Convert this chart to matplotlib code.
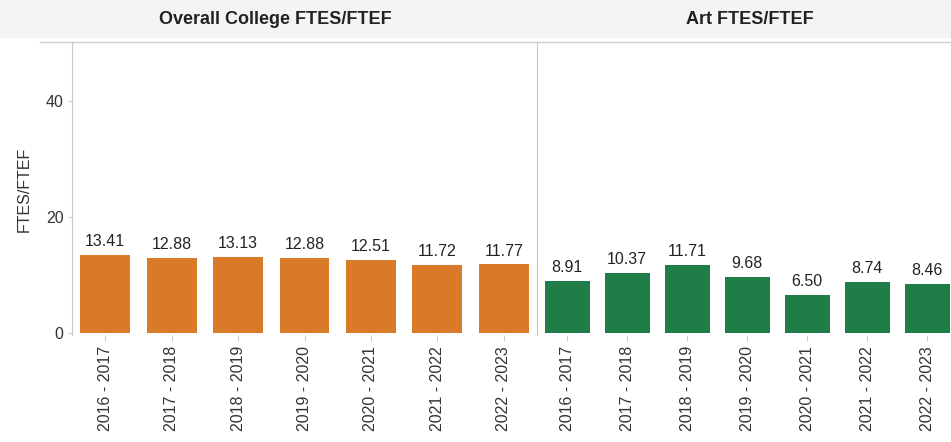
import matplotlib.pyplot as plt
from matplotlib.patches import Rectangle

plt.rcParams['font.family'] = ['Liberation Sans', 'DejaVu Sans']

years = ['2016 - 2017', '2017 - 2018', '2018 - 2019', '2019 - 2020',
         '2020 - 2021', '2021 - 2022', '2022 - 2023']
college = [13.41, 12.88, 13.13, 12.88, 12.51, 11.72, 11.77]
art = [8.91, 10.37, 11.71, 9.68, 6.50, 8.74, 8.46]
titles = ['Overall College FTES/FTEF', 'Art FTES/FTEF']
colors = ['#D87A27', '#1F7D48']

W, H = 951, 442
fig = plt.figure(figsize=(W / 100, H / 100), dpi=100)
fig.patch.set_facecolor('white')

# gray header band
fig.patches.append(Rectangle((0, 1 - 38 / H), 1, 38 / H, transform=fig.transFigure,
                             facecolor='#f4f4f4', edgecolor='none', zorder=0))

bottom = 1 - 335 / H
top = 1 - 43 / H
panels = [(72, 537), (537, 957)]
title_x = [275, 750]
axes = []
for (x0, x1), vals, title, col, bw, tx in zip(panels, [college, art], titles, colors,
                                              [0.75, 0.75], title_x):
    ax = fig.add_axes([x0 / W, bottom, (x1 - x0) / W, top - bottom])
    xs = range(len(years))
    ax.bar(xs, vals, width=bw, color=col)
    for x, v in zip(xs, vals):
        ax.text(x, v + 1.0, f'{v:.2f}', ha='center', va='bottom', fontsize=11.5, color='#222222')
    ax.set_xlim(-0.5, len(years) - 0.5)
    ax.set_ylim(-0.4, 50)
    ax.set_xticks(list(xs))
    ax.set_xticklabels(years, rotation=90, fontsize=11.5, color='#333333')
    ax.tick_params(axis='x', length=4, color='#cccccc', pad=4)
    for s in ['top', 'right', 'bottom']:
        ax.spines[s].set_visible(False)
    ax.spines['left'].set_color('#c8c8c8')
    axes.append(ax)
    fig.text(tx / W, 1 - 19 / H, title, ha='center', va='center',
             fontsize=13, fontweight='bold', color='#222222')

axes[0].set_yticks([0, 20, 40])
axes[0].tick_params(axis='y', labelsize=11.5, labelcolor='#333333', color='#c8c8c8',
                    length=3, pad=3)
axes[0].set_ylabel('FTES/FTEF', fontsize=11.5, color='#333333', labelpad=10)
axes[1].set_yticks([])

# header separator line
fig.add_artist(plt.Line2D([40 / W, 1], [1 - 42 / H, 1 - 42 / H], transform=fig.transFigure,
                          color='#cccccc', lw=1))

fig.savefig('out.png', dpi=100)
